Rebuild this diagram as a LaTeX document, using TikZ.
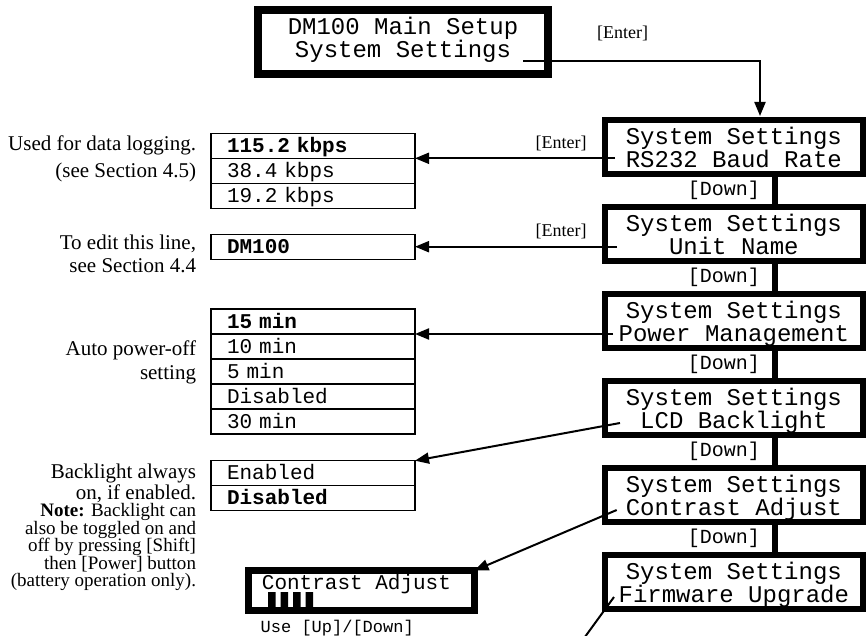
\documentclass[tikz,border=0pt]{standalone}
\usepackage{fontspec}
\setmainfont{Liberation Serif}
\setmonofont{Liberation Mono}
\usetikzlibrary{arrows.meta,positioning,calc}

\begin{document}
\begin{tikzpicture}[
  x=1bp, y=1bp,
  lcd/.style={draw,line width=6bp,outer sep=0pt,minimum width=258.3bp,minimum height=54bp,inner sep=0pt,align=center,
    font=\fontsize{24bp}{23.3bp}\selectfont\ttfamily,text height=41bp,text depth=0bp},
  opt/.style={draw,line width=1.2bp,outer sep=0pt,minimum height=25bp,inner xsep=16bp,inner ysep=0pt,text width=172bp,align=left,
    font=\fontsize{21bp}{21bp}\selectfont\ttfamily,text height=13bp,text depth=0pt},
  note/.style={inner sep=0pt,outer sep=0pt,align=right,font=\fontsize{21bp}{26bp}\selectfont},
  key/.style={inner sep=0pt,font=\fontsize{18bp}{18bp}\selectfont},
  downkey/.style={inner sep=0pt,font=\fontsize{20bp}{20bp}\selectfont\ttfamily},
  arrow/.style={-{Triangle[length=14bp,width=11bp]},line width=2bp},
  downline/.style={line width=6bp},
]
\useasboundingbox (0,0) rectangle (867,-636);

% menu screens
\node[lcd,line width=8bp,minimum width=290bp,minimum height=64bp,text height=40bp,text depth=8bp,
  font={\fontsize{24bp}{23bp}\selectfont\ttfamily}] (mainsetup) at (403,-42)
  {DM100 Main Setup\\System Settings};
\node[lcd] (baud) at (733.85,-147) {System Settings\\RS232 Baud Rate};
\node[lcd, below=33bp of baud] (unitname) {System Settings\\Unit Name};
\node[lcd, below=33bp of unitname] (power) {System Settings\\Power Management};
\node[lcd, below=33bp of power] (backlight) {System Settings\\LCD Backlight};
\node[lcd, below=33bp of backlight] (contrast) {System Settings\\Contrast Adjust};
\node[lcd, below=33bp of contrast] (firmware) {System Settings\\Firmware Upgrade};

\draw[arrow, shorten >=4bp] ([shift={(-25bp,-19bp)}]mainsetup.east) -| ([xshift=26.15bp]baud.north)
  node[key, pos=0.21, yshift=28bp] (ent0) {[Enter]};

\draw[downline] ([xshift=41.15bp]baud.south) -- ([xshift=41.15bp]unitname.north)
  node[downkey, midway, left=12bp] (dn1) {[Down]};
\draw[downline] ([xshift=41.15bp]unitname.south) -- ([xshift=41.15bp]power.north)
  node[downkey, midway, left=12bp] (dn2) {[Down]};
\draw[downline] ([xshift=41.15bp]power.south) -- ([xshift=41.15bp]backlight.north)
  node[downkey, midway, left=12bp] (dn3) {[Down]};
\draw[downline] ([xshift=41.15bp]backlight.south) -- ([xshift=41.15bp]contrast.north)
  node[downkey, midway, left=12bp] (dn4) {[Down]};
\draw[downline] ([xshift=41.15bp]contrast.south) -- ([xshift=41.15bp]firmware.north)
  node[downkey, midway, left=12bp] (dn5) {[Down]};

% option lists
\node[opt] (baud1) at (313,-145.8) {\bfseries 115.2 kbps};
\node[opt, below=0pt of baud1] (baud2) {38.4 kbps};
\node[opt, below=0pt of baud2] (baud3) {19.2 kbps};

\node[opt] (uname1) at (313,-246.7) {\bfseries DM100};

\node[opt] (pw1) at (313,-321.5) {\bfseries 15 min};
\node[opt, below=0pt of pw1] (pw2) {10 min};
\node[opt, below=0pt of pw2] (pw3) {5 min};
\node[opt, below=0pt of pw3] (pw4) {Disabled};
\node[opt, below=0pt of pw4] (pw5) {30 min};

\node[opt] (bl1) at (313,-473.2) {Enabled};
\node[opt, below=0pt of bl1] (bl2) {\bfseries Disabled};

% contrast screen
\node[draw, line width=7bp, outer sep=0pt, minimum width=226bp, minimum height=40bp] (cadj) at (361.5,-590.5) {};
\node[anchor=base west, inner sep=0pt, font=\fontsize{21bp}{21bp}\selectfont\ttfamily] (cadjlbl)
  at ($(cadj.north west)+(13.2,-18.5)$) {Contrast Adjust};
\fill ([xshift=19.5bp]cadj.south west) rectangle ++(7.5,18.5)
      ([xshift=32bp]cadj.south west) rectangle ++(7.5,18.5)
      ([xshift=44.5bp]cadj.south west) rectangle ++(7.5,18.5)
      ([xshift=57bp]cadj.south west) rectangle ++(7.5,18.5);
\node[anchor=base west, inner sep=0pt, font=\fontsize{17bp}{17bp}\selectfont\ttfamily] (cadjhint)
  at ($(cadj.south west)+(12,-21.5)$) {Use [Up]/[Down]};

% enter arrows
\draw[arrow] ([xshift=10.3bp]baud.west |- baud1.south east) -- (baud1.south east)
  node[key, pos=0.27, yshift=15.3bp] (ent1) {[Enter]};
\draw[arrow] ([xshift=12.3bp]unitname.west |- uname1.east) -- (uname1.east)
  node[key, pos=0.277, yshift=15bp] (ent2) {[Enter]};
\draw[arrow] ([xshift=8.3bp]power.west |- pw1.south east) -- (pw1.south east);
\draw[arrow] ([shift={(15.3bp,-15bp)}]backlight.west) -- (bl1.north east);
\draw[arrow] ([shift={(12bp,-15bp)}]contrast.west) -- (cadj.north east);
\coordinate (fwexit) at (582,-641);
\draw[line width=2bp] ([shift={(9.3bp,-15bp)}]firmware.west) -- (fwexit);

% side notes
\node[note, text height=40bp, below left=3.7bp and 15bp of baud1.north west] (lognote)
  {Used for data logging.\\(see Section 4.5)};
\node[note, text height=37bp, font=\fontsize{21bp}{23bp}\selectfont, below left=1.7bp and 15bp of uname1.north west] (editnote)
  {To edit this line,\\see Section 4.4};
\node[note, text height=38bp, font=\fontsize{21bp}{24bp}\selectfont, below left=7bp and 15bp of pw2.north west] (pwnote)
  {Auto power-off\\setting};
\node[note, text height=33bp, font=\fontsize{21bp}{19bp}\selectfont, below left=5.3bp and 15bp of bl1.north west] (blnote)
  {Backlight always\\on, if enabled.};
\node[note, text height=82.6bp, font=\fontsize{19bp}{17.5bp}\selectfont, below left=18.5bp and 15bp of bl2.north west] (togglenote)
  {\textbf{Note:} Backlight can\\also be toggled on and\\off by pressing [Shift]\\then [Power] button\\(battery operation only).};
\end{tikzpicture}
\end{document}
